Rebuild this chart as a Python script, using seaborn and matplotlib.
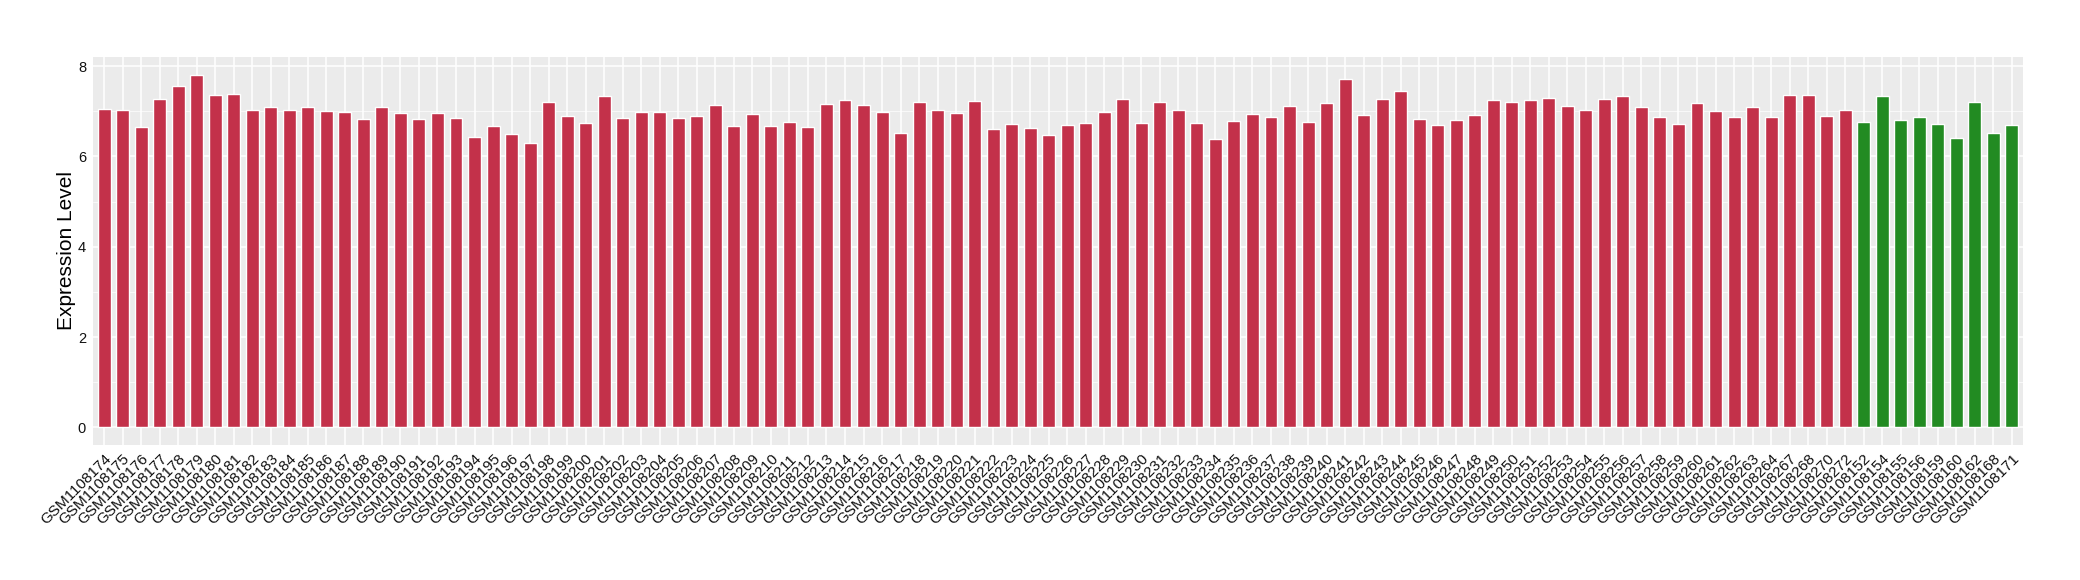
import matplotlib
matplotlib.use("Agg")
import matplotlib.pyplot as plt
import seaborn as sns
import pandas as pd
from matplotlib.ticker import MultipleLocator

red_ids = [str(n) for n in range(174, 265)] + ["267", "268", "270", "272"]
red_samples = ["GSM1108" + s for s in red_ids]
red_values = [
    7.06, 7.03, 6.66, 7.28, 7.56, 7.81, 7.37, 7.39, 7.03, 7.10,
    7.03, 7.10, 7.01, 6.99, 6.83, 7.10, 6.97, 6.83, 6.97, 6.86,
    6.44, 6.68, 6.50, 6.30, 7.21, 6.90, 6.75, 7.34, 6.86, 6.99,
    6.99, 6.86, 6.90, 7.14, 6.68, 6.94, 6.68, 6.77, 6.66, 7.17,
    7.25, 7.14, 6.99, 6.52, 7.21, 7.03, 6.97, 7.23, 6.61, 6.72,
    6.63, 6.48, 6.70, 6.75, 6.99, 7.28, 6.75, 7.21, 7.03, 6.75,
    6.39, 6.79, 6.94, 6.88, 7.12, 6.77, 7.19, 7.72, 6.92, 7.28,
    7.45, 6.83, 6.70, 6.81, 6.92, 7.25, 7.21, 7.25, 7.30, 7.12,
    7.03, 7.28, 7.34, 7.10, 6.88, 6.72, 7.19, 7.01, 6.88, 7.10,
    6.88, 7.37, 7.37, 6.90, 7.03,
]
green_samples = ["GSM1108152", "GSM1108154", "GSM1108155", "GSM1108156",
                 "GSM1108159", "GSM1108160", "GSM1108162", "GSM1108168",
                 "GSM1108171"]
green_values = [6.77, 7.34, 6.81, 6.88, 6.72, 6.41, 7.21, 6.52, 6.70]

red_color = "#C3314A"
green_color = "#228B22"

df = pd.DataFrame({
    "sample": red_samples + green_samples,
    "value": red_values + green_values,
    "group": ["A"] * len(red_samples) + ["B"] * len(green_samples),
})

sns.set_theme(style="darkgrid")
plt.rcParams["font.family"] = ["Liberation Sans", "DejaVu Sans"]

fig = plt.figure(figsize=(20.8, 5.8), dpi=100)
ax = fig.add_axes([0.0447, 0.2328, 0.9279, 0.6689])
ax.set_facecolor("#EBEBEB")

sns.barplot(data=df, x="sample", y="value", hue="group",
            palette={"A": red_color, "B": green_color},
            dodge=False, width=0.7, legend=False, ax=ax,
            saturation=1, zorder=3)

n = len(df)
ax.set_xlim(-0.6, n - 1 + 0.6)
ax.set_ylim(-0.39, 8.2)
ax.yaxis.set_major_locator(MultipleLocator(2))
ax.yaxis.set_minor_locator(MultipleLocator(1))
ax.grid(which="major", color="white", linewidth=1.1, zorder=0)
ax.grid(which="minor", axis="y", color="white", linewidth=0.5, zorder=0)
ax.set_axisbelow(True)
for s in ax.spines.values():
    s.set_visible(False)

ax.tick_params(axis="both", which="major", length=3, width=0.8,
               color="#333333", labelcolor="#111111", pad=2)
ax.tick_params(axis="y", which="minor", length=0)
ax.tick_params(axis="y", labelsize=10.5)
ax.set_xticks(range(n))
ax.set_xticklabels(df["sample"], rotation=45, ha="right",
                   rotation_mode="anchor", fontsize=11)
ax.set_xlabel("")
ax.set_ylabel("Expression Level", fontsize=15, color="black", labelpad=1)

fig.savefig("out.png", dpi=100, facecolor="white")
